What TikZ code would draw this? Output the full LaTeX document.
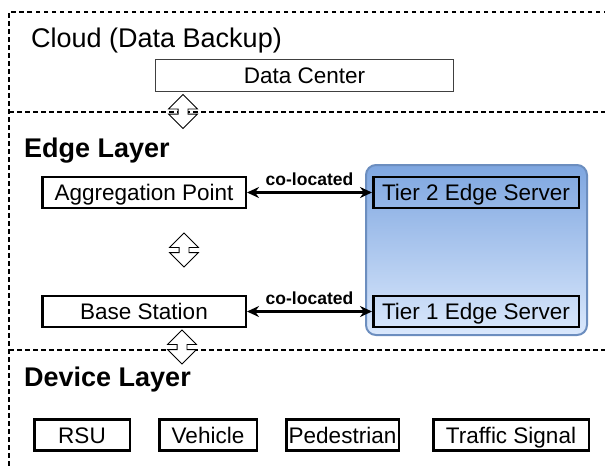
\documentclass[tikz,border=0pt]{standalone}
\usepackage{fontspec}
\setmainfont{Liberation Sans}
\usepackage{tikz}
\usetikzlibrary{arrows.meta, positioning, shapes.arrows}

\definecolor{tierblue}{HTML}{7EA6E0}
\definecolor{tierlight}{HTML}{DAE8FC}
\definecolor{tierline}{HTML}{6C8EBF}

\begin{document}
\begin{tikzpicture}[x=1pt, y=-1pt,
  layer/.style={draw, line width=1.2pt, dash pattern=on 4.5pt off 3.5pt},
  title/.style={anchor=base west, inner sep=0pt, font=\fontsize{27}{30}\selectfont},
  plainbox/.style={draw=black!75, line width=0.9pt, minimum width=298pt,
              minimum height=32pt, font=\fontsize{22.5}{26}\selectfont},
  thickbox/.style={draw, line width=2.5pt, inner sep=0pt, minimum height=31pt,
              text height=16.5pt, text depth=0.5pt,
              font=\fontsize{22.5}{26}\selectfont},
  servers/.style={draw=tierline, line width=2pt, rounded corners=10pt,
              top color=tierblue, bottom color=tierlight,
              minimum width=221pt, minimum height=170pt},
  updown/.style={double arrow, draw, fill=white, line width=0.8pt,
              shape border rotate=90, inner sep=4.5pt, minimum height=34pt,
              double arrow head extend=9.5pt},
  colink/.style={{Stealth[length=12pt,width=11pt]}-{Stealth[length=12pt,width=11pt]},
              line width=2.2pt},
  colabel/.style={above=6pt, inner sep=0pt, font=\bfseries\fontsize{17.5}{20}\selectfont}]
  \clip (0,0) rectangle (605,467);

  % layer borders
  \draw[layer] (640,12) -- (9,12) -- (9,480);
  \draw[layer] (9,112) -- (640,112);
  \draw[layer] (9,350) -- (640,350);

  % cloud
  \node[title] (cloudtxt) at (31,47) {Cloud (Data Backup)};
  \node[plainbox] (dc) at (304.5,75.5) {Data Center};

  % edge layer
  \node[title, font=\bfseries\fontsize{27}{30}\selectfont] (edgetxt) at (24,157) {Edge Layer};
  \node[servers] (srv) at (476.5,250) {};
  \node[thickbox, minimum width=203.5pt] (agg) at (144,192.5) {Aggregation Point};
  \node[thickbox, minimum width=203.5pt] (base) at (144,311.5) {Base Station};
  \node[thickbox, minimum width=205.5pt] (tier2) at (476,192.5) {Tier 2 Edge Server};
  \node[thickbox, minimum width=205.5pt] (tier1) at (476,311.5) {Tier 1 Edge Server};
  \draw[colink] (agg) -- node[colabel] {co-located} (tier2);
  \draw[colink] (base) -- node[colabel] {co-located} (tier1);

  \node[updown] (up1) at (183,111.5) {};
  \node[updown] (up2) at (184,250) {};
  \node[updown] (up3) at (182,347) {};

  % device layer
  \node[title, font=\bfseries\fontsize{27}{30}\selectfont] (devtxt) at (24,386) {Device Layer};
  \node[thickbox, minimum width=95.5pt] (rsu) at (82,435) {RSU};
  \node[thickbox, minimum width=97.5pt, right=27pt of rsu] (veh) {Vehicle};
  \node[thickbox, minimum width=112.5pt, right=27pt of veh] (ped) {Pedestrian};
  \node[thickbox, minimum width=155.5pt, right=32pt of ped] (sig) {Traffic Signal};
\end{tikzpicture}
\end{document}
